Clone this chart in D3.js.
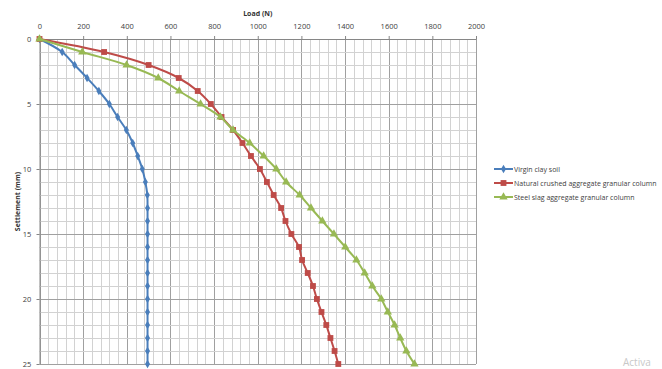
<!DOCTYPE html>
<html>
<head>
<meta charset="utf-8">
<script src="https://cdn.jsdelivr.net/npm/d3@7"></script>
<style>
  body { margin: 0; background: #fff; }
  text { font-family: "Open Sans", "Liberation Sans", sans-serif; }
</style>
</head>
<body>
<div id="chart"></div>
<script>
// size of the page
const width = 662;
const height = 369;
const margin = {left: 39.5, right: 186, top: 39, bottom: 5};

// settlement values (mm), one point per mm
const settlement = d3.range(0, 26);

// load values (N)
const virginClay = [0, 104, 161, 218, 272, 320, 358, 398, 427, 450, 471, 485, 494, 495, 495, 495, 495, 495, 495, 495, 495, 495, 495, 495, 495, 495];
const naturalAggregate = [0, 296, 500, 638, 725, 785, 834, 887, 930, 969, 1010, 1042, 1073, 1107, 1127, 1154, 1189, 1203, 1229, 1253, 1271, 1292, 1314, 1333, 1352, 1369];
const steelSlag = [0, 196, 399, 544, 640, 738, 829, 887, 963, 1027, 1085, 1130, 1192, 1244, 1296, 1349, 1401, 1452, 1490, 1525, 1566, 1596, 1627, 1653, 1681, 1718];

const xTicks = [0, 200, 400, 600, 800, 1000, 1200, 1400, 1600, 1800, 2000];
const yTicks = [0, 5, 10, 15, 20, 25];

const seriesNames = ["Virgin clay soil", "Natural crushed aggregate granular column", "Steel slag aggregate granular column"];
const seriesColors = ["#4a7ebb", "#be4b48", "#98b954"];
const seriesShapes = [d3.symbolDiamond, d3.symbolSquare, d3.symbolTriangle];
const seriesSizes = [22, 34, 30];
const allSeries = [virginClay, naturalAggregate, steelSlag];

const svg = d3.select("#chart")
  .append("svg")
  .attr("width", width)
  .attr("height", height);

// scales
const x = d3.scaleLinear()
  .domain([0, 2000])
  .range([margin.left, width - margin.right]);

const y = d3.scaleLinear()
  .domain([0, 25])
  .range([margin.top, height - margin.bottom]);

// grid: minor lines every 40 N and 1 mm, major lines at ticks
const grid = svg.append("g");
grid.selectAll(".vminor")
  .data(d3.range(0, 2001, 40))
  .enter().append("line")
    .attr("x1", d => Math.round(x(d)) + 0.5)
    .attr("x2", d => Math.round(x(d)) + 0.5)
    .attr("y1", y(0))
    .attr("y2", y(25))
    .attr("stroke", d => d % 200 === 0 ? "#a0a0a0" : "#d2d2d2")
    .attr("stroke-width", 1);
grid.selectAll(".hminor")
  .data(d3.range(0, 26, 1))
  .enter().append("line")
    .attr("x1", x(0))
    .attr("x2", x(2000))
    .attr("y1", d => Math.round(y(d)) + 0.5)
    .attr("y2", d => Math.round(y(d)) + 0.5)
    .attr("stroke", d => d % 5 === 0 ? "#a0a0a0" : "#d2d2d2")
    .attr("stroke-width", 1);

// axes
const xAxis = svg.append("g")
  .attr("transform", `translate(0,${y(0)})`)
  .call(d3.axisTop(x).tickValues(xTicks).tickFormat(d3.format("d")).tickSize(3).tickSizeOuter(0));
const yAxis = svg.append("g")
  .attr("transform", `translate(${x(0)},0)`)
  .call(d3.axisLeft(y).tickValues(yTicks).tickFormat(d3.format("d")).tickSize(3).tickSizeOuter(0));

[xAxis, yAxis].forEach(a => {
  a.select(".domain").attr("stroke", "#868686");
  a.selectAll(".tick line").attr("stroke", "#868686");
  a.selectAll(".tick text")
    .attr("fill", "#404040")
    .attr("font-size", "7.5px")
    .attr("font-family", "Open Sans, sans-serif");
});
xAxis.selectAll(".tick text").attr("dy", "-0.6em");
yAxis.selectAll(".tick text").attr("dx", "-0.3em");

// axis titles
svg.append("text")
  .attr("x", x(1000))
  .attr("y", 16)
  .attr("text-anchor", "middle")
  .attr("font-size", "7px")
  .attr("font-weight", "bold")
  .attr("fill", "#333")
  .text("Load (N)");

svg.append("text")
  .attr("transform", `translate(20,${y(12.5)}) rotate(-90)`)
  .attr("text-anchor", "middle")
  .attr("font-size", "7px")
  .attr("font-weight", "bold")
  .attr("fill", "#333")
  .text("Settlement (mm)");

// lines and markers
const line = d3.line()
  .x(d => x(d.load))
  .y(d => y(d.s))
  .curve(d3.curveCatmullRom.alpha(0.5));

allSeries.forEach((vals, k) => {
  const pts = vals.map((v, i) => ({load: v, s: settlement[i]}));
  svg.append("path")
    .datum(pts)
    .attr("fill", "none")
    .attr("stroke", seriesColors[k])
    .attr("stroke-width", 2)
    .attr("d", line);
  svg.selectAll(".m" + k)
    .data(pts)
    .enter().append("path")
      .attr("transform", d => `translate(${x(d.load)},${y(d.s)})`)
      .attr("d", d3.symbol().type(seriesShapes[k]).size(seriesSizes[k]))
      .attr("fill", seriesColors[k]);
});

// legend
const legend = svg.append("g").attr("transform", "translate(494,169)");
seriesNames.forEach((name, k) => {
  const g = legend.append("g").attr("transform", `translate(0,${k * 14})`);
  g.append("line")
    .attr("x1", 0).attr("x2", 19)
    .attr("stroke", seriesColors[k])
    .attr("stroke-width", 2);
  g.append("path")
    .attr("transform", "translate(9.5,0)")
    .attr("d", d3.symbol().type(seriesShapes[k]).size(seriesSizes[k]))
    .attr("fill", seriesColors[k]);
  g.append("text")
    .attr("x", 20)
    .attr("y", 2.5)
    .attr("font-size", "7px")
    .attr("fill", "#404040")
    .text(name);
});

// watermark text in the corner
svg.append("text")
  .attr("x", 623)
  .attr("y", 366)
  .attr("font-size", "10px")
  .attr("fill", "#c8c8c8")
  .text("Activa");
</script>
</body>
</html>
